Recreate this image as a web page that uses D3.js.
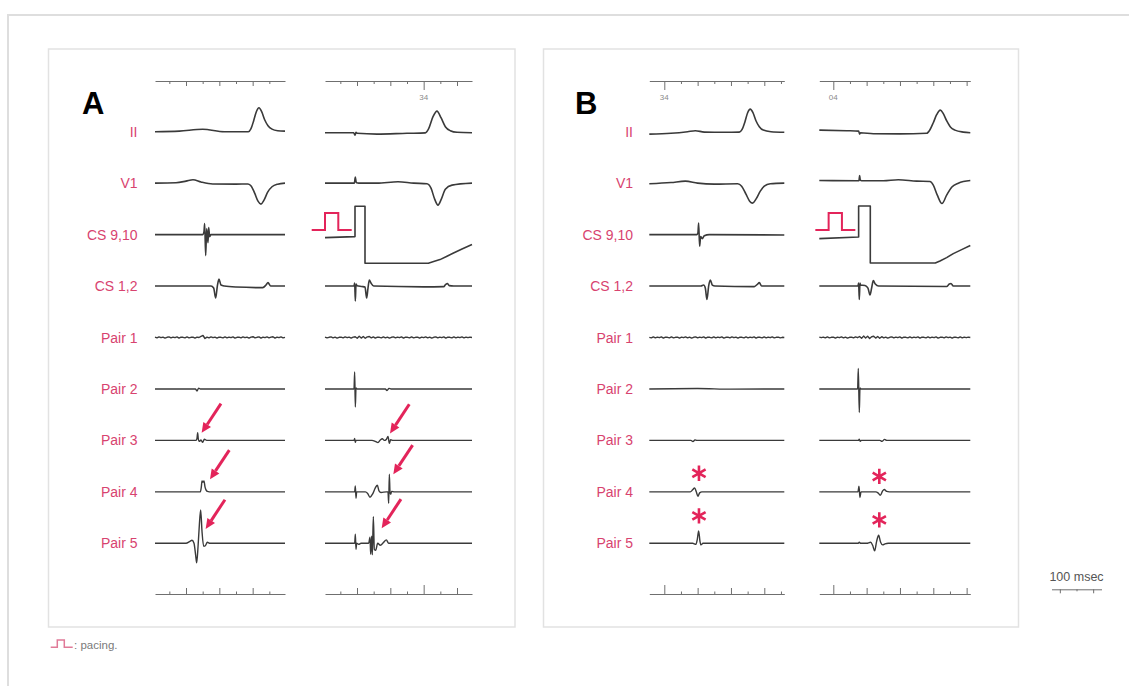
<!DOCTYPE html>
<html>
<head>
<meta charset="utf-8">
<script src="https://cdn.jsdelivr.net/npm/d3@7"></script>
<style>
  body { margin: 0; background: #fff; }
  svg { display: block; }
</style>
</head>
<body>
<svg id="chart" width="1129" height="686"></svg>
<script>
// ---------------------------------------------------------------
// Recording leads (rows) and the four recording windows (columns)
// ---------------------------------------------------------------
const leads = ["II", "V1", "CS 9,10", "CS 1,2", "Pair 1", "Pair 2", "Pair 3", "Pair 4", "Pair 5"];
const columnIds = ["A1", "A2", "B1", "B2"];
const columnWindowsMs = [[-93, 297], [-96, 345], [-45, 360], [-42, 411]];

// Labelled time ticks: [column, time (ms), label]
const markedTicks = [["A2", 200, "34"], ["B1", 0, "34"], ["B2", 0, "04"]];

// Pacing stimulus time in the paced beats (ms)
const pacingStimMs = [["A2", -6], ["B2", 76]];

// Scale bar
const scaleBarMs = 100;
const scaleBarLabel = "100 msec";

// ---------------------------------------------------------------
// Signals: [time ms, amplitude mV]
// ---------------------------------------------------------------
// Panel A, sinus beat
const a1_II = [[-93,0],[-20,0.03],[50,0.12],[115,0],[187,0],[195,0.15],[203,0.55],[211,1.0],[219,1.2],[227,1.0],[236,0.6],[246,0.3],[258,0.13],[275,0.05],[297,0.03]];
const a1_V1 = [[-93,0],[-30,0.02],[0,0.1],[21,0.17],[45,0.06],[80,-0.04],[150,-0.05],[186,-0.04],[196,-0.15],[206,-0.5],[216,-0.9],[225,-1.05],[234,-0.85],[245,-0.45],[258,-0.18],[275,-0.05],[297,0]];
const a1_CS910 = [[-93,0],[50,0],[54,0.15],[56,0.55],[59,-1.05],[62,0.3],[66,-0.4],[68,0.35],[71,-0.1],[75,0],[297,0]];
const a1_CS12 = [[-93,0],[75,0],[83,-0.1],[89,-0.6],[94,0],[99,0.35],[105,0.05],[115,0],[150,-0.05],[230,-0.08],[240,0.05],[246,0.17],[254,0],[297,0]];
const a1_P2 = [[-93,0],[28,0],[33,-0.1],[38,0.04],[43,0],[297,0]];
const a1_P3 = [[-93,0],[30,0],[33,0.1],[35,0.38],[37,0.05],[40,-0.05],[45,0.02],[50,-0.1],[55,0.06],[62,0],[297,0]];
const a1_P4 = [[-93,0],[43,0],[46,0.25],[48,0.55],[51,0.48],[54,0.55],[57,0.25],[60,0.1],[64,0.02],[70,0],[297,0]];
const a1_P5 = [[-93,0],[0,0],[12,0.1],[18,0.15],[24,0],[29,-0.6],[32,-0.97],[36,-0.2],[40,0.9],[44,1.67],[48,0.6],[53,-0.15],[58,-0.12],[64,0.05],[72,0],[297,0]];

// Panel A, paced beat
const a2_II = [[-96,-0.05],[-10,-0.05],[-6,-0.17],[-3,-0.03],[0,-0.08],[60,-0.12],[150,-0.08],[205,-0.06],[215,0.15],[228,0.75],[240,1.03],[252,0.7],[265,0.25],[280,0.05],[300,-0.03],[345,-0.05]];
const a2_V1 = [[-96,0],[-8,0],[-5,0.3],[-3,0.08],[-1,0.02],[5,0],[60,0],[123,0.07],[170,0],[210,-0.03],[222,-0.25],[233,-0.8],[243,-1.1],[253,-0.8],[265,-0.3],[285,-0.1],[345,0]];
const a2_CS910 = [[-96,-0.15],[-6,-0.1],[-6,1.42],[24,1.42],[24,-1.43],[214,-1.43],[230,-1.35],[249,-1.25],[270,-1.08],[288,-0.93],[315,-0.72],[345,-0.5]];
const a2_CS12 = [[-96,0],[-9,0],[-7,0.15],[-5,-0.75],[-3,0.1],[0,0.02],[15,-0.02],[24,-0.05],[29,-0.6],[33,-0.1],[37,0.3],[42,0.15],[50,0],[200,-0.04],[260,-0.03],[266,0.08],[271,0.13],[277,0.02],[290,0],[345,0]];
const a2_P2 = [[-96,0],[-9,0],[-7,0.85],[-5,-0.9],[-3,0.05],[0,0],[85,0],[90,-0.08],[96,0.03],[102,0],[345,0]];
const a2_P3 = [[-96,0],[-9,0],[-7,0.1],[-5,-0.1],[-3,0],[45,0],[55,-0.05],[63,-0.11],[70,0.02],[76,0.08],[82,0],[88,0.05],[93,0.2],[97,-0.15],[101,0.03],[108,0],[345,0]];
const a2_P4 = [[-96,0],[-7,0],[-5,0.3],[-3,-0.32],[-1,0],[25,0],[32,-0.08],[39,-0.27],[47,-0.1],[55,0.2],[61,0.33],[66,0.05],[72,-0.03],[88,0],[93,0],[95,-0.57],[97,0.88],[99,0],[101,-0.12],[104,0.02],[112,0],[345,0]];
const a2_P5 = [[-96,0],[-7,0],[-5,0.45],[-3,-0.3],[-1,0],[5,-0.05],[12,0],[35,0],[39,0.3],[41,-0.55],[44,0.35],[46,-0.58],[49,1.33],[52,-0.3],[56,-0.35],[62,0],[70,-0.1],[80,0.05],[88,0.17],[95,0],[105,0],[345,0]];

// Panel B, sinus beat
const b1_II = [[-45,-0.12],[20,-0.08],[70,0],[93,0.05],[120,-0.02],[180,-0.03],[225,-0.02],[233,0.1],[242,0.5],[250,0.95],[258,1.13],[266,0.95],[275,0.55],[285,0.25],[297,0.08],[320,0],[360,-0.03]];
const b1_V1 = [[-45,-0.03],[20,0.03],[63,0.1],[100,0],[150,-0.05],[220,-0.03],[232,-0.15],[245,-0.55],[256,-0.9],[265,-1.0],[275,-0.8],[288,-0.4],[300,-0.15],[318,-0.03],[360,0]];
const b1_CS910 = [[-45,0],[98,0],[101,0.1],[103,0.58],[106,-0.58],[109,-0.1],[114,-0.2],[120,-0.06],[135,0],[360,-0.02]];
const b1_CS12 = [[-45,0],[110,0],[118,0.05],[123,-0.1],[128,-0.67],[133,0],[138,0.3],[144,0.05],[152,0],[270,-0.03],[280,0.1],[285,0.17],[292,0],[360,0]];
const b1_P2 = [[-45,0],[100,0.02],[200,-0.01],[360,0]];
const b1_P3 = [[-45,0],[80,0],[86,-0.06],[92,0.02],[98,0],[360,0]];
const b1_P4 = [[-45,0],[78,0],[85,0.1],[91,0.2],[96,0],[101,-0.22],[106,-0.05],[113,0],[360,0]];
const b1_P5 = [[-45,0],[85,0],[95,-0.05],[99,0.2],[103,0.62],[107,0.1],[110,-0.08],[116,0],[360,0]];

// Panel B, paced beat
const b2_II = [[-42,0.08],[40,0.05],[76,0.03],[79,-0.12],[82,-0.05],[120,-0.1],[200,-0.11],[280,-0.08],[290,0.1],[300,0.45],[310,0.85],[321,1.08],[330,0.9],[340,0.55],[352,0.22],[365,0.08],[390,-0.02],[411,-0.05]];
const b2_V1 = [[-42,0.13],[70,0.12],[77,0.12],[79,0.38],[81,0.15],[85,0.12],[150,0.12],[195,0.17],[250,0.1],[290,0.08],[300,-0.1],[312,-0.6],[326,-1.02],[340,-0.6],[355,-0.2],[375,0],[411,0.13]];
const b2_CS910 = [[-42,-0.2],[76,-0.12],[76,1.43],[111,1.43],[111,-1.42],[306,-1.42],[320,-1.32],[340,-1.15],[360,-0.95],[385,-0.75],[411,-0.55]];
const b2_CS12 = [[-42,0],[74,0],[76,0.15],[78,-0.67],[80,0.15],[82,0.05],[95,0.03],[104,-0.1],[110,-0.45],[115,-0.1],[120,0.27],[126,0.1],[136,0],[340,-0.02],[348,0.1],[353,0.13],[360,0],[411,0]];
const b2_P2 = [[-42,0],[73,0],[75,1.03],[78,-1.18],[80,0.05],[83,0],[411,0]];
const b2_P3 = [[-42,0],[75,0],[78,0.06],[81,-0.05],[84,0],[140,0],[146,-0.05],[154,0.05],[160,0],[411,0]];
const b2_P4 = [[-42,0],[74,0],[77,0.28],[80,-0.28],[83,0],[128,0],[134,-0.05],[141,-0.17],[148,0.05],[153,0.12],[160,0.02],[168,0],[411,0]];
const b2_P5 = [[-42,0],[75,0],[78,0.06],[81,0],[100,0],[112,0.05],[118,-0.1],[124,-0.38],[130,0.1],[136,0.4],[142,0.05],[148,-0.08],[155,-0.03],[165,0],[411,0]];

// Pair 1: evenly sampled low-amplitude baseline (mV), spread over each window
const a1_P1 = [0.02,-0.02,0.03,-0.01,0.02,-0.03,0.01,0.03,-0.02,0.02,-0.01,0.03,-0.03,0.02,0.01,-0.02,0.03,-0.02,0.01,0.02,-0.03,0.02,0.0,0.06,0.1,-0.05,0.02,-0.02,0.03,-0.01,0.02,-0.03,0.02,0.01,-0.02,0.03,-0.02,0.02,-0.01,0.03,-0.03,0.01,0.02,-0.02,0.03,-0.01,0.02,-0.03,0.02,0.04,-0.02,0.01,0.03,-0.03,0.02,-0.01,0.03,-0.02,0.02,0.04,-0.03,0.02,-0.01,0.03,-0.02,0.01];
const a2_P1 = [0.02,-0.02,0.01,0.03,-0.02,0.02,-0.03,0.01,0.02,-0.02,0.03,-0.01,0.02,-0.03,0.02,0.04,-0.04,0.06,-0.03,0.05,-0.04,0.03,0.05,-0.02,0.03,-0.03,0.02,0.01,-0.02,0.03,-0.02,0.02,-0.03,0.01,0.03,-0.02,0.02,-0.01,0.03,-0.03,0.02,0.01,-0.02,0.03,-0.02,0.01,0.02,-0.03,0.02,-0.01,0.03,-0.02,0.02,-0.03,0.01,0.03,-0.02,0.02,-0.01,0.03,-0.03,0.02,0.01,-0.02,0.03,-0.02,0.02,-0.01,0.03,-0.02,0.02,-0.01,0.02,0.0];
const b1_P1 = [0.01,-0.02,0.03,-0.02,0.02,-0.01,0.03,-0.03,0.02,0.01,-0.02,0.03,-0.02,0.01,0.02,-0.03,0.02,-0.01,0.03,-0.02,0.02,-0.03,0.01,0.03,-0.02,0.02,-0.01,0.03,-0.03,0.02,0.01,-0.02,0.03,-0.02,0.02,-0.01,0.03,-0.03,0.01,0.02,-0.02,0.03,-0.01,0.02,-0.03,0.02,0.01,-0.02,0.03,-0.02,0.02,-0.01,0.03,-0.03,0.02,0.01,-0.02,0.03,-0.02,0.02,-0.01,0.03,-0.02,0.01,0.02,-0.02,0.01,0.0];
const b2_P1 = [0.02,-0.01,0.02,-0.02,0.03,-0.02,0.01,0.02,-0.03,0.02,-0.01,0.03,-0.02,0.02,-0.03,0.01,0.02,-0.02,0.03,-0.01,0.05,-0.04,0.07,-0.03,0.06,-0.05,0.04,0.06,-0.03,0.05,-0.04,0.04,-0.02,0.02,-0.03,0.01,0.03,-0.02,0.02,-0.01,0.03,-0.03,0.02,0.01,-0.02,0.03,-0.02,0.02,-0.01,0.03,-0.03,0.02,0.01,-0.02,0.03,-0.02,0.02,-0.01,0.03,-0.03,0.01,0.02,-0.02,0.03,-0.01,0.02,-0.03,0.02,0.01,-0.02,0.03,-0.02,0.02,-0.01,0.02,0.0];

// Annotated deflections
const arrowTips = [
  ["A1", "Pair 3", 47, 0.38], ["A1", "Pair 4", 72, 0.63], ["A1", "Pair 5", 59, 0.72],
  ["A2", "Pair 3", 99, 0.35], ["A2", "Pair 4", 109, 0.88], ["A2", "Pair 5", 74, 0.75]
];
const asteriskMarks = [
  ["B1", "Pair 4", 104, 0.93], ["B1", "Pair 5", 104, 1.37],
  ["B2", "Pair 4", 138, 0.77], ["B2", "Pair 5", 138, 1.17]
];

// Signal table, built from the arrays above
const signals = {
  A1: [a1_II, a1_V1, a1_CS910, a1_CS12, a1_P1, a1_P2, a1_P3, a1_P4, a1_P5],
  A2: [a2_II, a2_V1, a2_CS910, a2_CS12, a2_P1, a2_P2, a2_P3, a2_P4, a2_P5],
  B1: [b1_II, b1_V1, b1_CS910, b1_CS12, b1_P1, b1_P2, b1_P3, b1_P4, b1_P5],
  B2: [b2_II, b2_V1, b2_CS910, b2_CS12, b2_P1, b2_P2, b2_P3, b2_P4, b2_P5]
};

// ---------------------------------------------------------------
// Layout
// ---------------------------------------------------------------
const PX_PER_MS = 1 / 3;
const PX_PER_MV = 20;
const INK = "#3a3a3a";
const PINK = "#d8436f";
const RED = "#e3245a";
const AXIS = "#6f6f6f";

const colLayout = {
  A1: { left: 155, panel: "A" },
  A2: { left: 325, panel: "A" },
  B1: { left: 649.3, panel: "B" },
  B2: { left: 819.3, panel: "B" }
};
const panelLayout = {
  A: { x: 48.5, y: 49, w: 466.5, h: 578, labelRight: 137.5, letterX: 82 },
  B: { x: 543.5, y: 49, w: 475, h: 578, labelRight: 633, letterX: 575 }
};
const TOP_AXIS_Y = 81;
const BOTTOM_AXIS_Y = 594;

const svg = d3.select("#chart");

const yRow = d3.scalePoint().domain(leads).range([131.7, 543.3]);
const vScale = d3.scaleLinear().domain([0, 1]).range([0, -PX_PER_MV]);

const xScales = {};
columnIds.forEach((id, i) => {
  const w = columnWindowsMs[i];
  const left = colLayout[id].left;
  xScales[id] = d3.scaleLinear().domain(w).range([left, left + (w[1] - w[0]) * PX_PER_MS]);
});

// Outer frame
svg.append("path")
  .attr("d", "M8,686V15H1129")
  .attr("fill", "none").attr("stroke", "#dedede").attr("stroke-width", 2);

// Panel boxes, letters and lead labels
Object.entries(panelLayout).forEach(([name, p]) => {
  svg.append("rect")
    .attr("x", p.x).attr("y", p.y).attr("width", p.w).attr("height", p.h)
    .attr("fill", "none").attr("stroke", "#e2e2e2").attr("stroke-width", 1.5);
  svg.append("text")
    .attr("x", p.letterX).attr("y", 114)
    .attr("font-family", "Liberation Sans, Arial, sans-serif")
    .attr("font-weight", "bold").attr("font-size", 31).attr("fill", "#000")
    .text(name);
  svg.append("g").selectAll("text").data(leads).join("text")
    .attr("x", p.labelRight).attr("y", d => yRow(d) + 5)
    .attr("text-anchor", "end")
    .attr("font-family", "Liberation Sans, Arial, sans-serif")
    .attr("font-size", 14).attr("fill", PINK)
    .text(d => d);
});

// Time axes above and below each column
function styleAxis(g) {
  g.selectAll(".domain").attr("stroke", AXIS).attr("stroke-width", 1);
  g.selectAll(".tick line").attr("stroke", AXIS).attr("stroke-width", 1);
  g.selectAll(".tick text").remove();
}
columnIds.forEach((id, i) => {
  const x = xScales[id];
  const w = columnWindowsMs[i];
  const ticks = d3.range(Math.ceil(w[0] / 50) * 50, w[1] + 0.001, 50);
  const marked = markedTicks.filter(m => m[0] === id);
  const markedT = marked.map(m => m[1]);
  const majors = ticks.filter(t => t % 100 === 0 && !markedT.includes(t));
  const minors = ticks.filter(t => t % 100 !== 0);

  [[TOP_AXIS_Y, d3.axisBottom, 3, 5, 9], [BOTTOM_AXIS_Y, d3.axisTop, 2.5, 6, 9]].forEach(([yy, axisFn, sMin, sMaj, sTall]) => {
    const g = svg.append("g").attr("transform", `translate(0,${yy})`);
    g.append("g").call(axisFn(x).tickValues(minors).tickSize(sMin).tickSizeOuter(0).tickFormat("")).call(styleAxis);
    g.append("g").call(axisFn(x).tickValues(majors).tickSize(sMaj).tickSizeOuter(0).tickFormat(""))
      .call(s => s.select(".domain").remove()).call(styleAxis);
    g.append("g").call(axisFn(x).tickValues(markedT).tickSize(sTall).tickSizeOuter(0).tickFormat(""))
      .call(s => s.select(".domain").remove()).call(styleAxis);
  });

  svg.append("g").selectAll("text").data(marked).join("text")
    .attr("x", d => x(d[1])).attr("y", 99.5)
    .attr("text-anchor", "middle")
    .attr("font-family", "Liberation Sans, Arial, sans-serif")
    .attr("font-size", 8).attr("fill", "#8a8a8a")
    .text(d => d[2]);
});

// Signal traces
columnIds.forEach((id, i) => {
  const x = xScales[id];
  const w = columnWindowsMs[i];
  signals[id].forEach((sig, r) => {
    const lead = leads[r];
    let pts, curve;
    if (typeof sig[0] === "number") {
      const step = (w[1] - w[0]) / (sig.length - 1);
      pts = sig.map((v, k) => [w[0] + k * step, v]);
      curve = d3.curveLinear;
    } else {
      pts = sig;
      const dup = pts.some((p, k) => k > 0 && p[0] <= pts[k - 1][0]);
      curve = dup ? d3.curveLinear : d3.curveMonotoneX;
    }
    const line = d3.line()
      .x(d => x(d[0]))
      .y(d => yRow(lead) + vScale(d[1]))
      .curve(curve);
    svg.append("path")
      .attr("d", line(pts))
      .attr("fill", "none").attr("stroke", INK)
      .attr("stroke-width", lead.startsWith("Pair") ? 1.4 : 1.6)
      .attr("stroke-linejoin", "round");
  });
});

// Pacing pulse glyph next to the stimulus in CS 9,10
pacingStimMs.forEach(([id, t]) => {
  const sx = xScales[id](t);
  const yb = yRow("CS 9,10");
  const path = d3.path();
  path.moveTo(sx - 43.3, yb - 4.7);
  path.lineTo(sx - 30, yb - 4.7);
  path.lineTo(sx - 30, yb - 21.7);
  path.lineTo(sx - 16.7, yb - 21.7);
  path.lineTo(sx - 16.7, yb - 4.7);
  path.lineTo(sx - 3.3, yb - 4.7);
  svg.append("path").attr("d", path.toString())
    .attr("fill", "none").attr("stroke", RED).attr("stroke-width", 2);
});

// Arrows pointing at the far-field potentials
const ux = 0.551, uy = -0.834;
arrowTips.forEach(([id, lead, t, v]) => {
  const tx = xScales[id](t);
  const ty = yRow(lead) + vScale(v);
  const len = 35, head = 10, half = 4.6;
  const bx = tx + head * ux, by = ty + head * uy;
  svg.append("line")
    .attr("x1", tx + len * ux).attr("y1", ty + len * uy)
    .attr("x2", bx).attr("y2", by)
    .attr("stroke", RED).attr("stroke-width", 3);
  const px = -uy, py = ux;
  svg.append("path")
    .attr("d", `M${tx},${ty}L${bx + half * px},${by + half * py}L${bx - half * px},${by - half * py}Z`)
    .attr("fill", RED);
});

// Asterisks over the retained local signals
const star = d3.symbol(d3.symbolAsterisk, 165);
asteriskMarks.forEach(([id, lead, t, v]) => {
  svg.append("path")
    .attr("d", star())
    .attr("transform", `translate(${xScales[id](t)},${yRow(lead) + vScale(v)})`)
    .attr("fill", "none").attr("stroke", RED).attr("stroke-width", 2.6);
});

// Scale bar
const sbCenter = 1076.5;
const sbScale = d3.scaleLinear()
  .domain([-scaleBarMs * 0.75, scaleBarMs * 0.75])
  .range([sbCenter - scaleBarMs * 0.75 * PX_PER_MS, sbCenter + scaleBarMs * 0.75 * PX_PER_MS]);
const sb = svg.append("g").attr("transform", "translate(0,589.3)");
sb.append("g").call(d3.axisBottom(sbScale).tickValues([-scaleBarMs / 2, scaleBarMs / 2]).tickSize(4).tickSizeOuter(0).tickFormat("")).call(styleAxis);
sb.append("g").call(d3.axisBottom(sbScale).tickValues([0]).tickSize(2).tickSizeOuter(0).tickFormat(""))
  .call(s => s.select(".domain").remove()).call(styleAxis);
svg.append("text")
  .attr("x", sbCenter).attr("y", 581)
  .attr("text-anchor", "middle")
  .attr("font-family", "Liberation Sans, Arial, sans-serif")
  .attr("font-size", 12.5).attr("fill", "#555")
  .text(scaleBarLabel);

// Pacing legend
svg.append("path")
  .attr("d", "M50.7,647.3H57.3V640H64.3V647.3H72.7")
  .attr("fill", "none").attr("stroke", "#e07a98").attr("stroke-width", 1.5);
svg.append("text")
  .attr("x", 74).attr("y", 649)
  .attr("font-family", "Liberation Sans, Arial, sans-serif")
  .attr("font-size", 11.5).attr("fill", "#7a7a7a")
  .text(": pacing.");
</script>
</body>
</html>
